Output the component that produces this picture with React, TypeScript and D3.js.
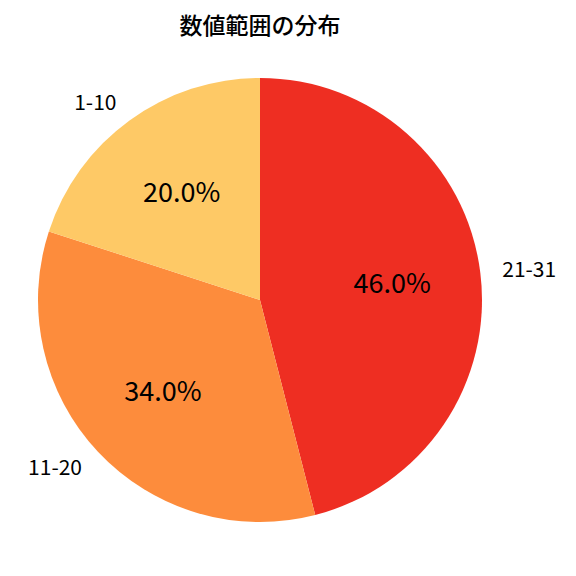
import * as d3 from 'd3';

const categories = ['21-31', '11-20', '1-10'];
const shares = [46.0, 34.0, 20.0];
const colors = ['#ee2e22', '#fd8c3c', '#fec966'];

export default function App() {
  const width = 576;
  const height = 576;
  const cx = 260;
  const cy = 300;
  const r = 222;

  const pie = d3.pie<number>().sort(null).value(d => d).startAngle(0).endAngle(2 * Math.PI);
  const arcs = pie(shares);
  const arc = d3.arc<d3.PieArcDatum<number>>().innerRadius(0).outerRadius(r);

  const pos = (a: d3.PieArcDatum<number>, k: number) => {
    const m = (a.startAngle + a.endAngle) / 2;
    return [Math.sin(m) * r * k, -Math.cos(m) * r * k];
  };

  const font = '"Noto Sans CJK JP", "Noto Sans", sans-serif';

  return (
    <svg width={width} height={height} style={{ position: 'absolute', left: 0, top: 0 }}>
      <rect width={width} height={height} fill="#fff" />
      <text x={cx} y={34} textAnchor="middle" fontFamily={font} fontSize={23} fontWeight={500}>
        数値範囲の分布
      </text>
      <g transform={`translate(${cx},${cy})`}>
        {arcs.map((a, i) => (
          <path key={i} d={arc(a) ?? ''} fill={colors[i]} />
        ))}
        {arcs.map((a, i) => {
          const [x, y] = pos(a, 1.1);
          return (
            <text key={'l' + i} x={x} y={y} dy="0.35em" textAnchor={x > 0 ? 'start' : 'end'}
              fontFamily={font} fontSize={21}>
              {categories[i]}
            </text>
          );
        })}
        {arcs.map((a, i) => {
          const [x, y] = pos(a, 0.6);
          return (
            <text key={'p' + i} x={x} y={y} dy="0.35em" textAnchor="middle"
              fontFamily={font} fontSize={27}>
              {shares[i].toFixed(1)}%
            </text>
          );
        })}
      </g>
    </svg>
  );
}
